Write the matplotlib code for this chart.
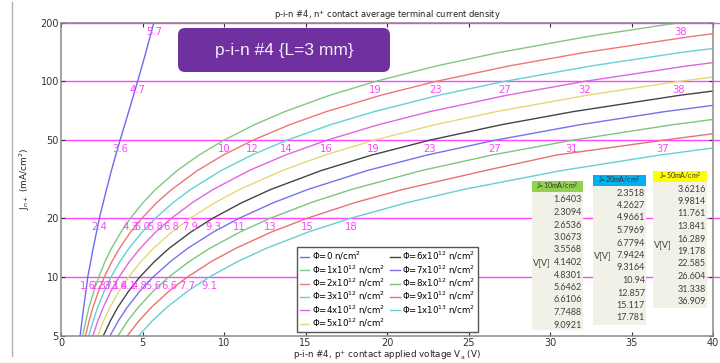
import numpy as np
import matplotlib
matplotlib.use("Agg")
import matplotlib.pyplot as plt
from matplotlib.patches import Rectangle, FancyBboxPatch
from matplotlib.lines import Line2D
from matplotlib.transforms import IdentityTransform
from matplotlib.ticker import FixedLocator, FixedFormatter, NullLocator

# Datos (V en voltios para cada nivel de J en mA/cm2)
j_grid = [5, 6, 7, 8.5, 10, 12, 14, 17, 20, 24, 28, 35, 42, 50,
          60, 70, 85, 100, 120, 140, 170, 200]

v_phi0 = [1.17, 1.29, 1.39, 1.53, 1.6403, 1.82, 1.97, 2.18, 2.3518, 2.59, 2.79,
          3.09, 3.36, 3.6216, 3.91, 4.15, 4.45, 4.7, 4.97, 5.2, 5.47, 5.7]
v_phi1 = [1.33, 1.53, 1.72, 2.02, 2.3094, 2.70, 3.09, 3.68, 4.2627, 5.03, 5.79,
          7.12, 8.46, 9.9814, 11.85, 13.71, 16.50, 19.3, 23.04, 26.78, 32.39, 38.0]
v_phi2 = [1.50, 1.73, 1.96, 2.31, 2.6536, 3.12, 3.58, 4.27, 4.9661, 5.87, 6.78,
          8.36, 9.95, 11.761, 14.01, 16.26, 19.63, 23.0, 27.5, 32.0, 38.74, 45.5]
v_phi3 = [1.70, 1.98, 2.25, 2.66, 3.0673, 3.61, 4.16, 4.98, 5.7969, 6.87, 7.94,
          9.82, 11.70, 13.841, 16.51, 19.19, 23.19, 27.2, 32.54, 37.89, 45.9]
v_phi4 = [1.95, 2.27, 2.59, 3.07, 3.5568, 4.20, 4.85, 5.81, 6.7794, 8.05, 9.32,
          11.53, 13.75, 16.289, 19.45, 22.61, 27.36, 32.1, 38.42, 44.75]
v_phi5 = [2.24, 2.62, 3.00, 3.57, 4.1402, 4.90, 5.66, 6.80, 7.9424, 9.44, 10.94,
          13.56, 16.18, 19.178, 22.92, 26.67, 32.28, 37.9, 45.4]
v_phi6 = [2.59, 3.04, 3.48, 4.16, 4.8301, 5.73, 6.62, 7.97, 9.3164, 11.09, 12.85,
          15.95, 19.05, 22.585, 26.99, 31.39, 37.99, 44.6]
v_phi7 = [3.00, 3.53, 4.06, 4.85, 5.6462, 6.71, 7.76, 9.35, 10.94, 13.03, 15.12,
          18.77, 22.43, 26.604, 31.80, 37.0, 44.8]
v_phi8 = [3.49, 4.11, 4.74, 5.67, 6.6106, 7.86, 9.11, 10.98, 12.857, 15.32, 17.79,
          22.10, 26.41, 31.338, 37.48, 43.6]
v_phi9 = [4.06, 4.80, 5.54, 6.64, 7.7488, 9.22, 10.70, 12.91, 15.117, 18.02, 20.93,
          26.01, 30.37, 36.909, 44.16]
v_phi10 = [4.75, 5.62, 6.49, 7.79, 9.0921, 10.83, 12.57, 15.17, 17.781, 21.22, 24.66,
           30.68, 36.70, 43.6]

curvas = [v_phi0, v_phi1, v_phi2, v_phi3, v_phi4, v_phi5,
          v_phi6, v_phi7, v_phi8, v_phi9, v_phi10]

fluencias = ["0", "1x10$^{12}$", "2x10$^{12}$", "3x10$^{12}$", "4x10$^{12}$",
             "5x10$^{12}$", "6x10$^{12}$", "7x10$^{12}$", "8x10$^{12}$",
             "9x10$^{12}$", "1x10$^{13}$"]

colores = ["#6b6bf2", "#80c880", "#ee7676", "#62d2d2", "#e066e0", "#e6d877",
           "#444444", "#7474ea", "#7cc67c", "#e87272", "#66d0d0"]

# Cruces con los niveles de corriente
niveles_j = [10, 20, 50, 100, 200]
v_at_10 = [1.6403, 2.3094, 2.6536, 3.0673, 3.5568, 4.1402, 4.8301, 5.6462, 6.6106, 7.7488, 9.0921]
v_at_20 = [2.3518, 4.2627, 4.9661, 5.7969, 6.7794, 7.9424, 9.3164, 10.94, 12.857, 15.117, 17.781]
v_at_50 = [3.6216, 9.9814, 11.761, 13.841, 16.289, 19.178, 22.585, 26.604, 31.338, 36.909]
v_at_100 = [4.7, 19.3, 23.0, 27.2, 32.1, 37.9]
v_at_200 = [5.7, 38.0]
cruces = [v_at_10, v_at_20, v_at_50, v_at_100, v_at_200]

y_ticks = [5, 10, 20, 50, 100, 200]

magenta = "#ff44ff"

fig = plt.figure(figsize=(7.2, 3.63), dpi=100)
fig.patch.set_facecolor("white")
ax = fig.add_axes([61/720, 27/363, 652/720, 313.5/363])

# Curvas J-V
for v, c, f in zip(curvas, colores, fluencias):
    ax.plot(v, j_grid[:len(v)], color=c, lw=1.0, label="Φ=" + f + " n/cm$^2$")

# Líneas horizontales y etiquetas
for jn, vs in zip(niveles_j, cruces):
    ax.axhline(jn, xmin=0, xmax=1.01, color=magenta, lw=1.0, zorder=1,
               clip_on=False)
    for v in vs:
        txt = f"{v:.1f}" if v < 9.95 else f"{v:.0f}"
        ax.annotate(txt, (v, jn), xytext=(0, -6.5), textcoords="offset points",
                    ha="center", va="center", color=magenta, fontsize=7.2)

ax.set_xlim(0, 40)
ax.set_yscale("log")
ax.set_ylim(5, 200)
ax.yaxis.set_major_locator(FixedLocator(y_ticks))
ax.yaxis.set_major_formatter(FixedFormatter([str(t) for t in y_ticks]))
ax.yaxis.set_minor_locator(NullLocator())
ax.set_xticks(np.arange(0, 41, 5))
ax.tick_params(labelsize=7, colors="#333333", direction="in", length=3,
               top=True, right=True, pad=1.5)
for s in ax.spines.values():
    s.set_color("#8a8a8a")
    s.set_linewidth(1.1)

ax.set_title("p-i-n #4, n$^{+}$ contact average terminal current density",
             fontsize=6, pad=3, color="#222222")
ax.set_xlabel("p-i-n #4, p$^{+}$ contact applied voltage V$_\\mathregular{a}$ (V)",
              fontsize=6.3, labelpad=0, color="#222222")
ax.set_ylabel("J$_{n+}$ (mA/cm$^2$)", fontsize=6.5, labelpad=6, color="#222222")

leg = ax.legend(ncol=2, loc="lower left", bbox_to_anchor=(0.362, 0.013),
                borderaxespad=0, fontsize=6.2, frameon=True, fancybox=False,
                edgecolor="#555555", framealpha=1, handlelength=1.1,
                handletextpad=0.3, labelspacing=0.12, columnspacing=0.6,
                borderpad=0.3)
leg.get_frame().set_linewidth(1.0)

# Caja con el nombre del dispositivo
H = 363
caja = FancyBboxPatch((178, H - 72), 212, 44,
                      boxstyle="round,pad=0,rounding_size=7",
                      transform=IdentityTransform(), facecolor="#7030a0",
                      edgecolor="none", zorder=5)
fig.add_artist(caja)
fig.text(284/720, 1 - 50/363, "p-i-n #4 {L=3 mm}", color="#f3ecf8",
         fontsize=12.5, family="Liberation Sans", ha="center", va="center",
         zorder=6)

# Línea gris del marco a la izquierda
fig.add_artist(Line2D([12/720, 12/720], [0.02, 0.995], color="#b0b0b0",
                      lw=1.0, transform=fig.transFigure))

# Tablas con los voltajes
tablas = [
    # x0, x1, y cabecera, color, titulo, y primer valor, y de V[V], valores, y fondo
    (532, 583, 181, "#92d050", "J=10mA/cm$^2$", 200, 263, v_at_10, 330),
    (593, 646, 175, "#00b0f0", "J=20mA/cm$^2$", 193, 256, v_at_20, 325),
    (653, 707, 171, "#ffff00", "J=50mA/cm$^2$", 189, 245, v_at_50, 308),
]
for x0, x1, yh, col, tit, yv, yvv, vals, ybot in tablas:
    fig.add_artist(Rectangle((x0/720, 1 - ybot/H), (x1 - x0)/720, (ybot - yh - 11)/H,
                             transform=fig.transFigure, facecolor="#f2f1e8",
                             edgecolor="none", zorder=5))
    fig.add_artist(Rectangle((x0/720, 1 - (yh + 11)/H), (x1 - x0)/720, 11/H,
                             transform=fig.transFigure, facecolor=col,
                             edgecolor="none", zorder=5))
    fig.text((x0 + x1)/2/720, 1 - (yh + 5.5)/H, tit, fontsize=5, ha="center",
             va="center", color="#333333", family="Lato", zorder=6)
    fig.text((x0 + 1)/720, 1 - yvv/H, "V[V]", fontsize=6.5, ha="left",
             va="center", color="#404040", family="Lato", zorder=6)
    for i, v in enumerate(vals):
        fig.text((x1 - 1)/720, 1 - (yv + 12.5*i)/H, f"{v:g}", fontsize=6.5,
                 ha="right", va="center", color="#404040", family="Lato", zorder=6)

fig.savefig("out.png", dpi=100)
